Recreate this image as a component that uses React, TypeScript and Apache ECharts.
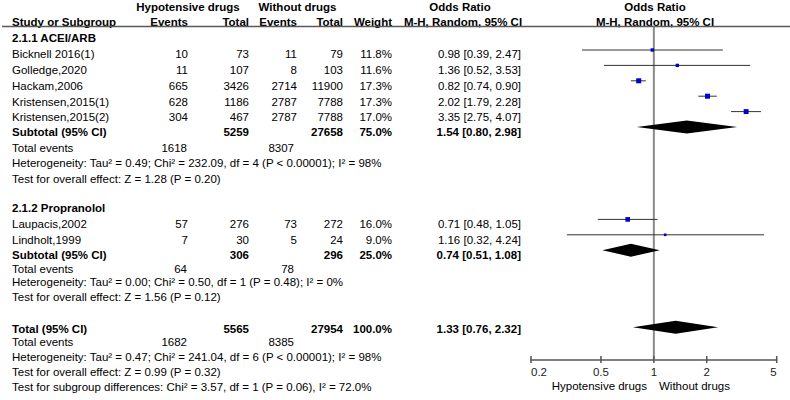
import React, { useEffect, useRef } from "react";
import * as echarts from "echarts";

// ---------- data ----------
const STUDIES = [
  "Bicknell 2016(1)",
  "Golledge,2020",
  "Hackam,2006",
  "Kristensen,2015(1)",
  "Kristensen,2015(2)",
  "Laupacis,2002",
  "Lindholt,1999",
];
const STUDY_GROUP = [0, 0, 0, 0, 0, 1, 1];
const EVENTS_T = [10, 11, 665, 628, 304, 57, 7];
const TOTAL_T = [73, 107, 3426, 1186, 467, 276, 30];
const EVENTS_C = [11, 8, 2714, 2787, 2787, 73, 5];
const TOTAL_C = [79, 103, 11900, 7788, 7788, 272, 24];
const WEIGHTS = [11.8, 11.6, 17.3, 17.3, 17.0, 16.0, 9.0];
const OR = [0.98, 1.36, 0.82, 2.02, 3.35, 0.71, 1.16];
const OR_LO = [0.39, 0.52, 0.74, 1.79, 2.75, 0.48, 0.32];
const OR_HI = [2.47, 3.53, 0.9, 2.28, 4.07, 1.05, 4.24];

const GROUP_NAMES = ["2.1.1 ACEI/ARB", "2.1.2 Propranolol"];
const GROUP_TOTAL_T = [5259, 306];
const GROUP_TOTAL_C = [27658, 296];
const GROUP_WEIGHT = [75.0, 25.0];
const GROUP_OR = [1.54, 0.74];
const GROUP_LO = [0.8, 0.51];
const GROUP_HI = [2.98, 1.08];
const GROUP_EVENTS_T = [1618, 64];
const GROUP_EVENTS_C = [8307, 78];
const GROUP_HET = [
  "Heterogeneity: Tau² = 0.49; Chi² = 232.09, df = 4 (P < 0.00001); I² = 98%",
  "Heterogeneity: Tau² = 0.00; Chi² = 0.50, df = 1 (P = 0.48); I² = 0%",
];
const GROUP_TEST = [
  "Test for overall effect: Z = 1.28 (P = 0.20)",
  "Test for overall effect: Z = 1.56 (P = 0.12)",
];

const OVERALL_TOTAL_T = 5565;
const OVERALL_TOTAL_C = 27954;
const OVERALL_WEIGHT = 100.0;
const OVERALL_OR = [1.33, 0.76, 2.32];
const OVERALL_EVENTS = [1682, 8385];
const OVERALL_NOTES = [
  "Heterogeneity: Tau² = 0.47; Chi² = 241.04, df = 6 (P < 0.00001); I² = 98%",
  "Test for overall effect: Z = 0.99 (P = 0.32)",
  "Test for subgroup differences: Chi² = 3.57, df = 1 (P = 0.06), I² = 72.0%",
];

const TICKS = [0.2, 0.5, 1, 2, 5];
const SIDE_LABELS = ["Hypotensive drugs", "Without drugs"];

// ---------- layout ----------
const FONT = "'Liberation Sans', Arial, Helvetica, sans-serif";
const FS = 11.5;
const ROW0_Y = 34.6;
const ROW_H = 15.4;
const TOP_Y = 26.5;
const AXIS_Y = 360;
const PLOT_L = 531;
const PLOT_R = 776.7;
const TEXT_Y = [
  37.5, 54, 70, 85.5, 101.5, 117, 132, 147.5, 163, 178.5, 0,
  208, 224, 239.5, 255, 268.5, 282, 297, 0,
  328.5, 342, 357, 372, 387,
];
const COL = { name: 12, evT: 188, totT: 249, evC: 297, totC: 343, wt: 392, or: 521, teT: 187, teC: 294 };
const SQ_K = 0.29;

const yMin = (TOP_Y - ROW0_Y) / ROW_H;
const yMax = (AXIS_Y - ROW0_Y) / ROW_H;
const lg = (v: number) => Math.log10(v);
const fmtOR = (o: number, l: number, h: number) => `${o.toFixed(2)} [${l.toFixed(2)}, ${h.toFixed(2)}]`;

export default function App() {
  const ref = useRef<HTMLDivElement>(null);
  useEffect(() => {
    if (!ref.current) return;
    const chart = echarts.init(ref.current, undefined, { renderer: "svg" });

    type Row = any;
    const rows: Row[] = [];
    GROUP_NAMES.forEach((g, gi) => {
      rows.push({ kind: "group", label: g });
      STUDIES.forEach((_, i) => {
        if (STUDY_GROUP[i] === gi) rows.push({ kind: "study", i });
      });
      rows.push({ kind: "sub", gi });
      rows.push({ kind: "events", t: GROUP_EVENTS_T[gi], c: GROUP_EVENTS_C[gi] });
      rows.push({ kind: "note", text: GROUP_HET[gi] });
      rows.push({ kind: "note", text: GROUP_TEST[gi] });
      rows.push({ kind: "blank" });
    });
    rows.push({ kind: "total" });
    rows.push({ kind: "events", t: OVERALL_EVENTS[0], c: OVERALL_EVENTS[1] });
    OVERALL_NOTES.forEach((t) => rows.push({ kind: "note", text: t }));

    const graphics: any[] = [];
    const txt = (x: number, y: number, text: string, align: string, bold = false) =>
      graphics.push({
        type: "text",
        x,
        y,
        silent: true,
        style: {
          text,
          fill: "#000",
          font: `${bold ? "bold " : ""}${FS}px ${FONT}`,
          align,
          verticalAlign: "middle",
        },
      });

    // header
    txt(188, 7, "Hypotensive drugs", "center", true);
    txt(297.5, 7, "Without drugs", "center", true);
    txt(460, 7, "Odds Ratio", "center", true);
    txt(655, 7, "Odds Ratio", "center", true);
    txt(COL.name, 22, "Study or Subgroup", "left", true);
    txt(COL.evT, 22, "Events", "right", true);
    txt(COL.totT, 22, "Total", "right", true);
    txt(COL.evC, 22, "Events", "right", true);
    txt(COL.totC, 22, "Total", "right", true);
    txt(COL.wt, 22, "Weight", "right", true);
    txt(463, 22, "M-H, Random, 95% CI", "center", true);
    txt(655, 22, "M-H, Random, 95% CI", "center", true);
    graphics.push({
      type: "line",
      silent: true,
      shape: { x1: 2, y1: TOP_Y, x2: 790, y2: TOP_Y },
      style: { stroke: "#5a5a5a", lineWidth: 1.5 },
    });

    const studyData: any[] = [];
    const diamondData: any[] = [];
    rows.forEach((r, ri) => {
      const y = TEXT_Y[ri];
      if (r.kind === "group") txt(COL.name, y, r.label, "left", true);
      else if (r.kind === "study") {
        const i = r.i;
        txt(COL.name, y, STUDIES[i], "left");
        txt(COL.evT, y, String(EVENTS_T[i]), "right");
        txt(COL.totT, y, String(TOTAL_T[i]), "right");
        txt(COL.evC, y, String(EVENTS_C[i]), "right");
        txt(COL.totC, y, String(TOTAL_C[i]), "right");
        txt(COL.wt, y, WEIGHTS[i].toFixed(1) + "%", "right");
        txt(COL.or, y, fmtOR(OR[i], OR_LO[i], OR_HI[i]), "right");
        studyData.push([lg(OR_LO[i]), lg(OR_HI[i]), lg(OR[i]), ri, WEIGHTS[i]]);
      } else if (r.kind === "sub") {
        const g = r.gi;
        txt(COL.name, y, "Subtotal (95% CI)", "left", true);
        txt(COL.totT, y, String(GROUP_TOTAL_T[g]), "right", true);
        txt(COL.totC, y, String(GROUP_TOTAL_C[g]), "right", true);
        txt(COL.wt, y, GROUP_WEIGHT[g].toFixed(1) + "%", "right", true);
        txt(COL.or, y, fmtOR(GROUP_OR[g], GROUP_LO[g], GROUP_HI[g]), "right", true);
        diamondData.push([lg(GROUP_LO[g]), lg(GROUP_HI[g]), lg(GROUP_OR[g]), ri]);
      } else if (r.kind === "total") {
        txt(COL.name, y, "Total (95% CI)", "left", true);
        txt(COL.totT, y, String(OVERALL_TOTAL_T), "right", true);
        txt(COL.totC, y, String(OVERALL_TOTAL_C), "right", true);
        txt(COL.wt, y, OVERALL_WEIGHT.toFixed(1) + "%", "right", true);
        txt(COL.or, y, fmtOR(OVERALL_OR[0], OVERALL_OR[1], OVERALL_OR[2]), "right", true);
        diamondData.push([lg(OVERALL_OR[1]), lg(OVERALL_OR[2]), lg(OVERALL_OR[0]), ri]);
      } else if (r.kind === "events") {
        txt(COL.name, y, "Total events", "left");
        txt(COL.teT, y, String(r.t), "right");
        txt(COL.teC, y, String(r.c), "right");
      } else if (r.kind === "note") {
        txt(COL.name, y, r.text, "left");
      }
    });

    // side labels under axis
    txt(647, 386, SIDE_LABELS[0], "right");
    txt(659, 386, SIDE_LABELS[1], "left");

    chart.setOption({
      animation: false,
      grid: { left: PLOT_L, width: PLOT_R - PLOT_L, top: TOP_Y, height: AXIS_Y - TOP_Y, containLabel: false },
      xAxis: {
        type: "value",
        min: lg(TICKS[0]),
        max: lg(TICKS[TICKS.length - 1]),
        axisLine: { show: true, onZero: false, lineStyle: { color: "#555", width: 1.5 } },
        axisTick: { show: false },
        splitLine: { show: false },
        axisLabel: {
          customValues: TICKS.map(lg),
          formatter: (v: number) => {
            const t = TICKS.find((k) => Math.abs(lg(k) - v) < 1e-6);
            return t === undefined ? "" : String(t);
          },
          alignMinLabel: "left",
          alignMaxLabel: "right",
          margin: 6,
          color: "#222",
          fontFamily: FONT,
          fontSize: FS,
        },
      },
      yAxis: { type: "value", inverse: true, min: yMin, max: yMax, show: false },
      series: [
        {
          type: "line",
          silent: true,
          symbol: "none",
          data: [[0, yMin], [0, yMax]],
          lineStyle: { color: "#8a8a8a", width: 2 },
          z: 1,
        },
        {
          type: "custom",
          silent: true,
          z: 2,
          data: TICKS.map((t) => [lg(t), yMax]),
          renderItem: (_p: any, api: any) => {
            const p = api.coord([api.value(0), api.value(1)]);
            return {
              type: "line",
              shape: { x1: p[0], y1: p[1] - 4, x2: p[0], y2: p[1] + 3 },
              style: { stroke: "#555", lineWidth: 1.5 },
            };
          },
        },
        {
          type: "custom",
          silent: true,
          z: 3,
          data: studyData,
          renderItem: (_p: any, api: any) => {
            const y = api.value(3);
            const a = api.coord([api.value(0), y]);
            const b = api.coord([api.value(1), y]);
            const c = api.coord([api.value(2), y]);
            const s = api.value(4) * SQ_K;
            return {
              type: "group",
              children: [
                { type: "line", shape: { x1: a[0], y1: a[1], x2: b[0], y2: b[1] }, style: { stroke: "#333", lineWidth: 1 } },
                { type: "rect", shape: { x: c[0] - s / 2, y: c[1] - s / 2, width: s, height: s }, style: { fill: "#0000cc" } },
              ],
            };
          },
        },
        {
          type: "custom",
          silent: true,
          z: 3,
          data: diamondData,
          renderItem: (_p: any, api: any) => {
            const y = api.value(3);
            const a = api.coord([api.value(0), y]);
            const b = api.coord([api.value(1), y]);
            const c = api.coord([api.value(2), y]);
            const h = 6.5;
            return {
              type: "polygon",
              shape: { points: [[a[0], a[1]], [c[0], c[1] - h], [b[0], b[1]], [c[0], c[1] + h]] },
              style: { fill: "#000" },
            };
          },
        },
      ],
      graphic: graphics,
    });
    return () => chart.dispose();
  }, []);
  return <div ref={ref} style={{ position: "fixed", left: 0, top: 0, width: 790, height: 400, background: "#fff" }} />;
}
